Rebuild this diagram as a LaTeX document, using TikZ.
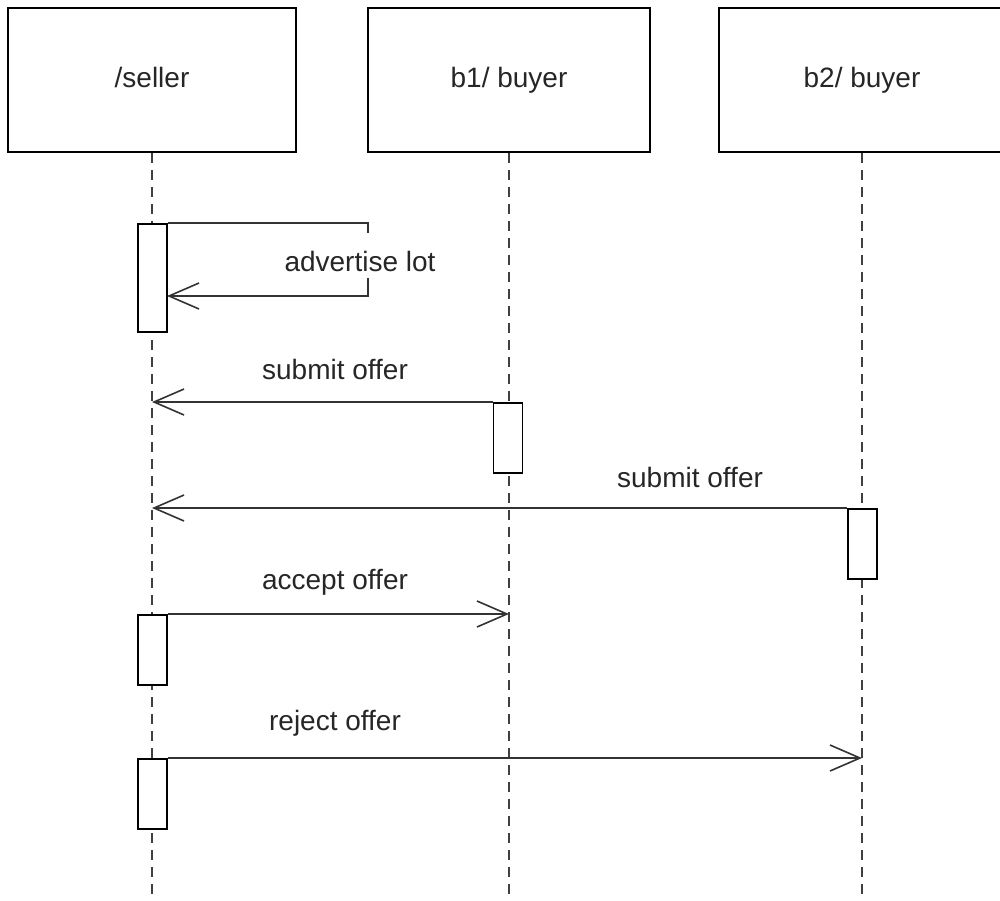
\documentclass[tikz,border=0pt]{standalone}
\usepackage{fontspec}
\setmainfont{Liberation Sans}
\usetikzlibrary{arrows.meta}
\begin{document}
\begin{tikzpicture}[x=1pt,y=-1pt,
  every node/.style={font=\fontsize{28}{34}\selectfont, text=black!85},
  head/.style={draw, line width=1.6pt, minimum height=144pt, inner sep=0pt, text height=20pt, text depth=6pt},
  act/.style={draw, line width=1.6pt, fill=white, minimum width=29pt, minimum height=70pt, inner sep=0pt},
  life/.style={line width=1.6pt, dash pattern=on 10pt off 7pt, black!75},
  msg/.style={line width=1.6pt, black!80, -{Straight Barb[length=30pt,width=26pt,line width=1.6pt]}},
  lbl/.style={inner sep=0pt, text height=20pt, text depth=6pt}
]
\useasboundingbox (0,0) rectangle (1000,900);
% heads
\node[head, minimum width=288pt] (seller) at (152,80) {/seller};
\node[head, minimum width=282pt] (b1) at (509,80) {b1/ buyer};
\node[head, minimum width=286pt] (b2) at (862,80) {b2/ buyer};
% lifeline ends
\coordinate (sellerEnd) at (152,900);
\coordinate (b1End) at (509,900);
\coordinate (b2End) at (862,900);
\draw[life] (seller.south) -- (sellerEnd);
\draw[life] (b1.south) -- (b1End);
\draw[life] (b2.south) -- (b2End);
% activations
\node[act, minimum height=108pt, anchor=north] (a1) at (152.5,223) {};
\node[act, anchor=north] (a2) at (508,402) {};
\node[act, anchor=north] (a3) at (862.5,508) {};
\node[act, anchor=north] (a4) at (152.5,614) {};
\node[act, anchor=north] (a5) at (152.5,758) {};
% message coordinates
\coordinate (selfA) at (368,223);
\coordinate (selfB) at (368,296);
\coordinate (selfEnd) at (167,296);
\coordinate (s1) at (152,402);
\coordinate (s2) at (152,508);
\coordinate (acc) at (509,614);
\coordinate (rej) at (862,758);
% messages
\draw[msg] (a1.north east) -- (selfA) -- (selfB) -- (selfEnd);
\draw[msg] (a2.north west) -- (s1);
\draw[msg] (a3.north west) -- (s2);
\draw[msg] (a4.north east) -- (acc);
\draw[msg] (a5.north east) -- (rej);
% labels
\node[anchor=base, fill=white, inner xsep=3pt, inner ysep=0pt, text height=38pt, text depth=7pt] (l1) at (360,271) {advertise lot};
\node[lbl] (l2) at (335,372) {submit offer};
\node[lbl] (l3) at (690,480) {submit offer};
\node[lbl] (l4) at (335,582) {accept offer};
\node[lbl] (l5) at (335,723) {reject offer};
\end{tikzpicture}
\end{document}
